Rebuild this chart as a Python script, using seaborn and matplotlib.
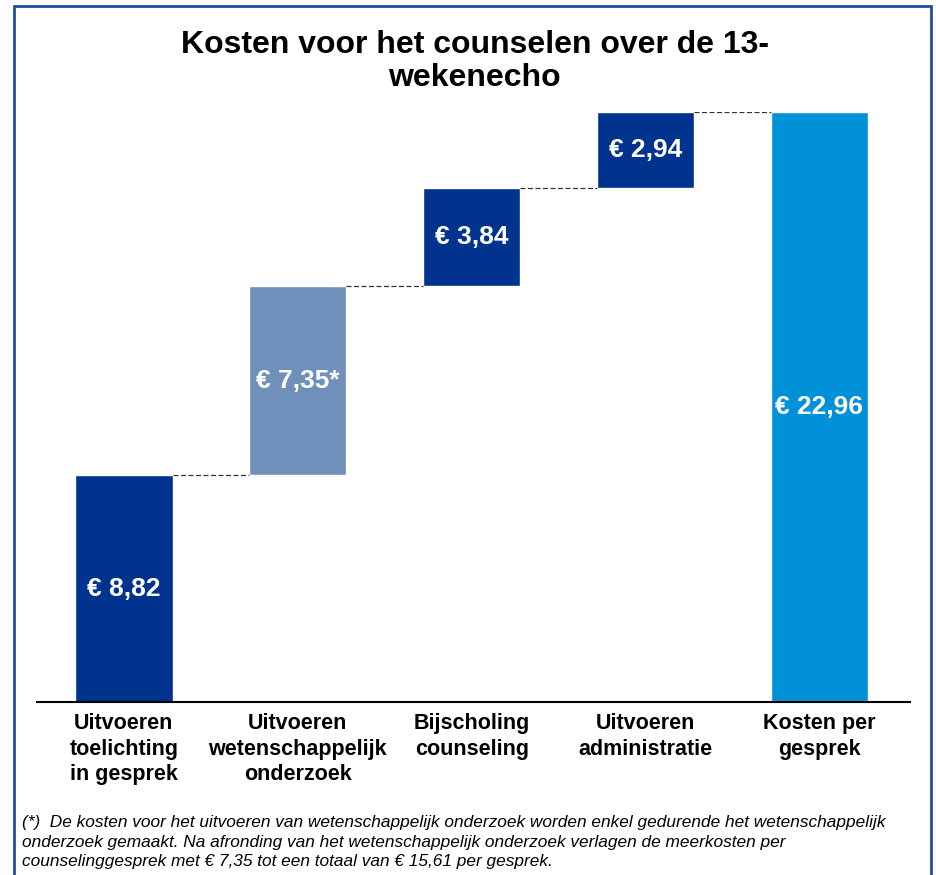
import numpy as np
import seaborn as sns
import matplotlib.pyplot as plt
from matplotlib.patches import Rectangle

# waterfall data
labels = ['Uitvoeren\ntoelichting\nin gesprek', 'Uitvoeren\nwetenschappelijk\nonderzoek',
          'Bijscholing\ncounseling', 'Uitvoeren\nadministratie', 'Kosten per\ngesprek']
values = [8.82, 7.35, 3.84, 2.94, 22.96]
value_text = ['€ 8,82', '€ 7,35*', '€ 3,84', '€ 2,94', '€ 22,96']
colors = ['#00338D', '#7090BC', '#00338D', '#00338D', '#0091D8']

# start / end of every bar (last one is the total)
ends = list(np.cumsum(values[:-1])) + [values[-1]]
starts = [e - v for e, v in zip(ends, values)]

sns.set_style('white')
plt.rcParams['font.family'] = ['Liberation Sans', 'DejaVu Sans']
plt.rcParams['text.color'] = 'black'
plt.rcParams['xtick.color'] = 'black'

fig = plt.figure(figsize=(9.36, 8.75), dpi=100)
ax = fig.add_axes([0.0395, 0.1977, 0.9325, 0.6743])

width = 0.56
sns.barplot(x=labels, y=ends, hue=labels, palette=colors, legend=False,
            saturation=1, width=width, ax=ax)
# hide the lower part of the floating bars
sns.barplot(x=labels, y=starts, color='white', saturation=1, width=width, ax=ax)

# dashed connectors
for i in range(len(values) - 1):
    ax.plot([i + width / 2, i + 1 - width / 2], [ends[i], ends[i]],
            ls=(0, (4, 2)), color='#333333', lw=0.9, zorder=3)

for i, t in enumerate(value_text):
    ax.text(i, (starts[i] + ends[i]) / 2, t, ha='center', va='center',
            color='white', fontsize=19, fontweight='bold')

ax.set_xlim(-0.5, 4.52)
ax.set_ylim(0, 22.96)
ax.set_yticks([])
ax.set_ylabel('')
sns.despine(ax=ax, left=True)
ax.spines['bottom'].set_color('black')
ax.spines['bottom'].set_linewidth(1.5)
ax.tick_params(axis='x', length=0, pad=8)
for lab in ax.get_xticklabels():
    lab.set_fontsize(15.5)
    lab.set_fontweight('bold')
    lab.set_linespacing(1.28)

fig.text(0.507, 1 - 30 / 875, 'Kosten voor het counselen over de 13-\nwekenecho',
         ha='center', va='top', fontsize=23, fontweight='bold', linespacing=1.15)

fig.text(22 / 936, 1 - 815 / 875,
         '(*)  De kosten voor het uitvoeren van wetenschappelijk onderzoek worden enkel gedurende het wetenschappelijk\n'
         'onderzoek gemaakt. Na afronding van het wetenschappelijk onderzoek verlagen de meerkosten per\n'
         'counselinggesprek met € 7,35 tot een totaal van € 15,61 per gesprek.',
         ha='left', va='top', fontsize=12.4, style='italic', linespacing=1.38)

# blue frame around the slide
fig.patches.append(Rectangle((14 / 936, -0.02), (931 - 14) / 936, 1 - 6 / 875 + 0.02,
                             transform=fig.transFigure, fill=False,
                             edgecolor='#1F4E9F', lw=2))

fig.savefig('out.png', dpi=100)
